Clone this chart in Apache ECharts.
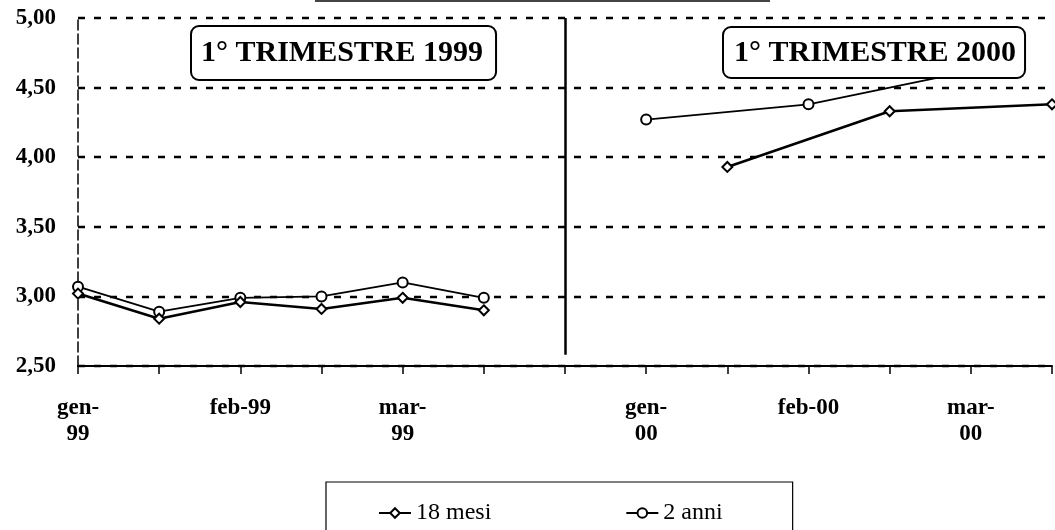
<!DOCTYPE html>
<html>
<head>
<meta charset="utf-8">
<script src="https://cdn.jsdelivr.net/npm/echarts@6/dist/echarts.min.js"></script>
<style>html,body{margin:0;padding:0;background:#fff}#c{width:1055px;height:530px}</style>
</head>
<body>
<div id="c"></div>
<script>
// Category slots (half-month steps), with an empty slot separating the two quarters
const categories = ['gen-99','gen-99 b','feb-99','feb-99 b','mar-99','mar-99 b','gap',
                    'gen-00','gen-00 b','feb-00','feb-00 b','mar-00','mar-00 b'];
const tickLabels = ['gen-\n99','','feb-99','','mar-\n99','','',
                    'gen-\n00','','feb-00','','mar-\n00',''];
// 1st quarter 1999 (slots 0..5)
const mesi18_1999 = [3.02, 2.84, 2.96, 2.91, 2.99, 2.90];
const anni2_1999  = [3.07, 2.89, 2.99, 3.00, 3.10, 2.99];
// 1st quarter 2000 (slots 7..12)
const mesi18_2000 = [null, 3.93, null, 4.33, null, 4.38];
const anni2_2000  = [4.27, null, 4.38, null, 4.62, null];
const yTicks = [2.5, 3.0, 3.5, 4.0, 4.5, 5.0];
const boxTitles = ['1° TRIMESTRE 1999', '1° TRIMESTRE 2000'];

const N = categories.length;
function place(vals, start) {
  const a = new Array(N).fill(null);
  vals.forEach((v, i) => { a[start + i] = v; });
  return a;
}
const FONT = '"Liberation Serif", "DejaVu Serif", serif';

const s18 = { type: 'line', name: '18 mesi', symbol: 'diamond', symbolSize: 10, connectNulls: true,
  lineStyle: { color: '#000', width: 2.6 }, itemStyle: { color: '#fff', borderColor: '#000', borderWidth: 2 },
  emphasis: { disabled: true }, z: 3 };
const s2a = { type: 'line', name: '2 anni', symbol: 'circle', symbolSize: 10, connectNulls: true,
  lineStyle: { color: '#000', width: 1.8 }, itemStyle: { color: '#fff', borderColor: '#000', borderWidth: 2 },
  emphasis: { disabled: true }, z: 2 };

const chart = echarts.init(document.getElementById('c'), null, { renderer: 'canvas' });
chart.setOption({
  animation: false,
  backgroundColor: '#fff',
  grid: { left: 78, right: -1, top: 18, bottom: 164, containLabel: false },
  xAxis: {
    type: 'category', data: categories, boundaryGap: false,
    axisLine: { lineStyle: { color: '#000', width: 2 } },
    axisTick: { show: true, interval: 0, length: 8, lineStyle: { color: '#000', width: 1.5 } },
    axisLabel: { interval: 0, margin: 29, color: '#000', fontFamily: FONT, fontSize: 23, fontWeight: 'bold', lineHeight: 26,
      formatter: (v, i) => tickLabels[i] },
    splitLine: { show: false }
  },
  yAxis: {
    type: 'value', min: yTicks[0], max: yTicks[yTicks.length - 1], interval: 0.5,
    axisLine: { show: true, lineStyle: { color: '#000', width: 1.5, type: [10, 4] } },
    axisTick: { show: false },
    axisLabel: { margin: 22, color: '#000', fontFamily: FONT, fontSize: 23, fontWeight: 'bold',
      formatter: v => v.toFixed(2).replace('.', ',') },
    splitLine: { show: true, lineStyle: { color: '#000', width: 2.4, type: [7, 9] } }
  },
  legend: {
    left: 326, top: 482, orient: 'horizontal',
    data: ['18 mesi', '2 anni'],
    itemWidth: 32, itemHeight: 12, itemGap: 134,
    padding: [19, 70, 40, 52],
    borderColor: '#000', borderWidth: 1.2,
    textStyle: { color: '#000', fontFamily: FONT, fontSize: 24 }
  },
  series: [
    Object.assign({}, s18, { data: place(mesi18_1999, 0),
      markLine: { silent: true, symbol: 'none', label: { show: false },
        lineStyle: { color: '#000', width: 2.5, type: 'solid' },
        data: [[{ coord: [6, 5.0] }, { coord: [6, 2.58] }]] } }),
    Object.assign({}, s18, { data: place(mesi18_2000, 7) }),
    Object.assign({}, s2a, { data: place(anni2_1999, 0) }),
    Object.assign({}, s2a, { data: place(anni2_2000, 7) })
  ],
  graphic: [
    { type: 'rect', z: 100, shape: { x: 315, y: 0, width: 455, height: 2 }, style: { fill: '#444' } },
    { type: 'text', z: 100, left: 190, top: 25,
      style: { text: boxTitles[0], font: 'bold 30px ' + FONT, fill: '#000',
        backgroundColor: '#fff', borderColor: '#000', borderWidth: 2, borderRadius: 7, padding: [11, 12, 11, 9] } },
    { type: 'text', z: 100, left: 722, top: 26,
      style: { text: boxTitles[1], font: 'bold 30px ' + FONT, fill: '#000',
        backgroundColor: '#fff', borderColor: '#000', borderWidth: 2, borderRadius: 7, padding: [10, 8, 9, 10] } }
  ]
});
</script>
</body>
</html>
